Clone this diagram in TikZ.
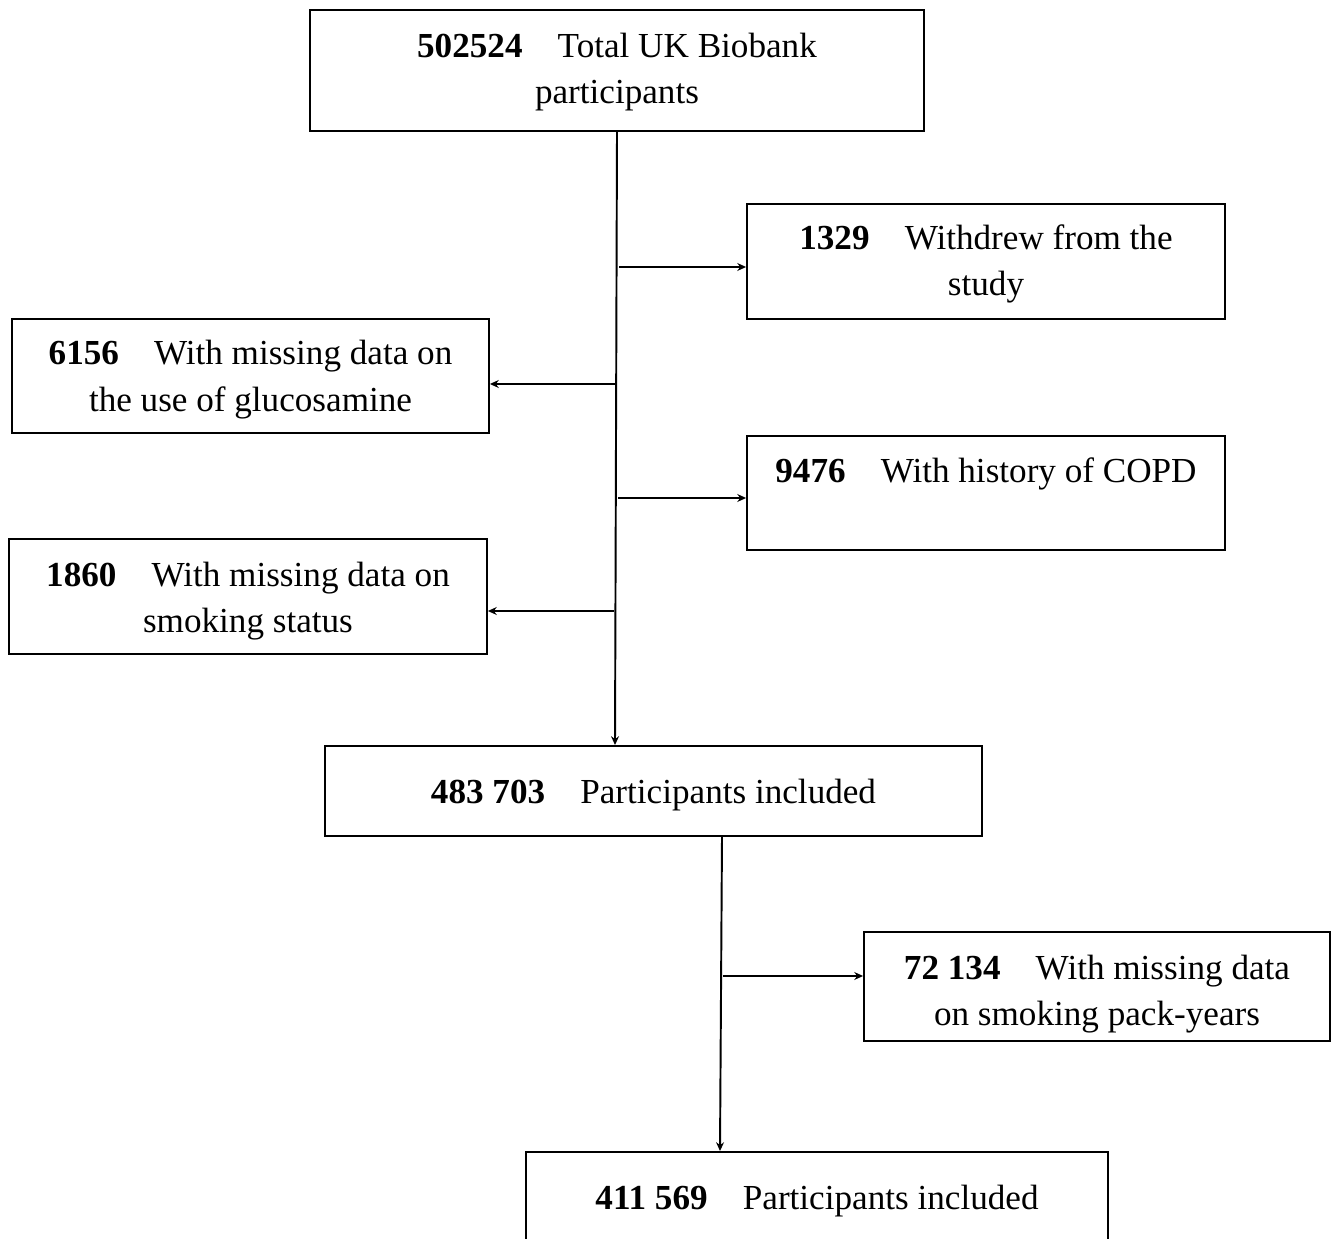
\documentclass[tikz,border=0pt]{standalone}
\usepackage{fontspec}
\setmainfont{Liberation Serif}
\usetikzlibrary{arrows.meta, positioning, calc}
\newcommand{\topgap}[1][18pt]{\rule{0pt}{#1}}

\begin{document}
\begin{tikzpicture}[
    x=0.02cm, y=-0.02cm,
    >={Stealth[length=5pt, width=4.5pt]},
    block/.style={rectangle, draw, line width=1.1pt, align=center, inner sep=0pt,
        font=\fontsize{20}{26.2}\selectfont},
    arrow/.style={->, line width=0.9pt},
    trunk/.style={line width=1.1pt},
]
\useasboundingbox (0,0) rectangle (1340,1239);

% === Main flow ===
\node (total) [block, minimum width=12.28cm, minimum height=2.42cm] at (617,70.5)
    {\topgap[16pt]\textbf{502524}\quad Total UK Biobank\\participants};
\node (incl1) [block, minimum width=13.14cm, minimum height=1.8cm] at (653.5,791)
    {\topgap\textbf{483 703}\quad Participants included};
\node (incl2) [block, minimum width=11.64cm, minimum height=1.8cm] at (817,1197)
    {\topgap\textbf{411 569}\quad Participants included};

% === Exclusions ===
\node (withdrew) [block, minimum width=9.56cm, minimum height=2.3cm] at (986,261.5)
    {\topgap[17pt]\textbf{1329}\quad Withdrew from the\\study};
\node (glucos) [block, minimum width=9.54cm, minimum height=2.28cm] at (250.5,376)
    {\topgap\textbf{6156}\quad With missing data on\\the use of glucosamine};
\node (copd) [block, minimum width=9.56cm, minimum height=2.28cm] at (986,493)
    {\textbf{9476}\quad With history of COPD\\~};
\node (smoking) [block, minimum width=9.56cm, minimum height=2.3cm] at (248,596.5)
    {\topgap[19.5pt]\textbf{1860}\quad With missing data on\\smoking status};
\node (packyr) [block, minimum width=9.32cm, minimum height=2.18cm] at (1097,986.5)
    {\topgap[22.7pt]\textbf{72 134}\quad With missing data\\on smoking pack-years};

% === Branch points ===
\coordinate (b1) at (619,267);
\coordinate (b2) at (616,384);
\coordinate (b3) at (618,498);
\coordinate (b4) at (614,611);
\coordinate (b5) at (723,976);

% === Arrows ===
\draw[arrow, trunk] (total.south -| 617,0) -- (incl1.north -| 615,0);
\draw[arrow] (b1) -- (b1 -| withdrew.west);
\draw[arrow] (b2) -- (b2 -| glucos.east);
\draw[arrow] (b3) -- (b3 -| copd.west);
\draw[arrow] (b4) -- (b4 -| smoking.east);

\draw[arrow, trunk] (incl1.south -| 722,0) -- (incl2.north -| 720,0);
\draw[arrow] (b5) -- (b5 -| packyr.west);

\end{tikzpicture}
\end{document}
